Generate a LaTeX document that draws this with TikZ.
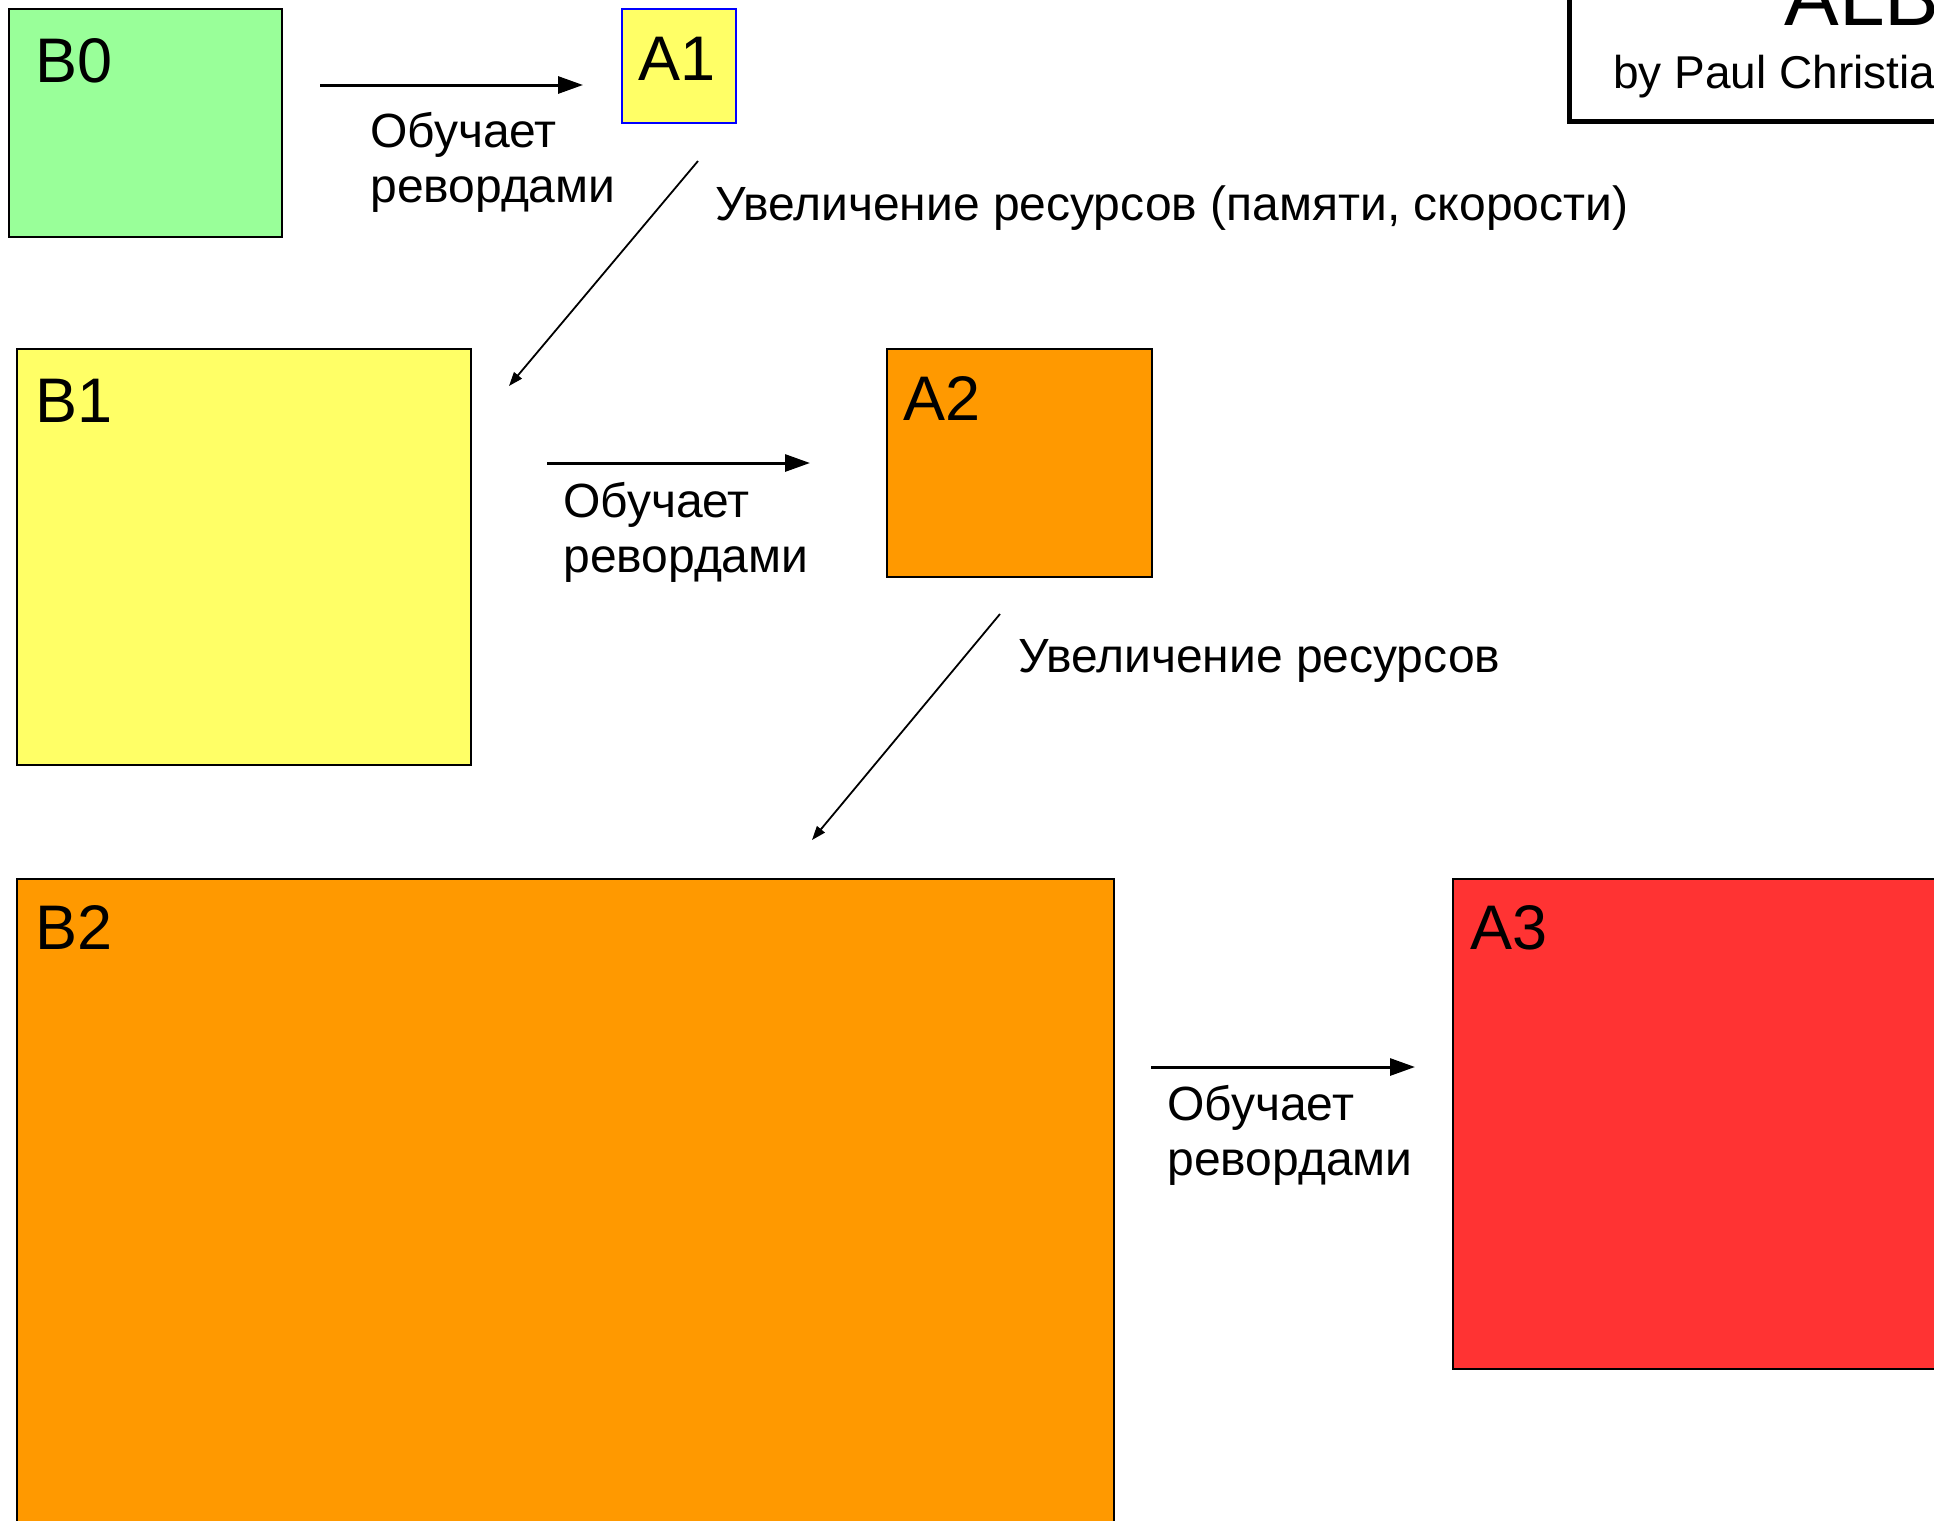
\documentclass[tikz,border=0pt]{standalone}
\usepackage{fontspec}
\setmainfont{Liberation Sans}
\usetikzlibrary{arrows.meta}
\definecolor{cgreen}{HTML}{99FF99}
\definecolor{cyellow}{HTML}{FFFF66}
\definecolor{corange}{HTML}{FF9900}
\definecolor{cred}{HTML}{FF3333}
\definecolor{cblue}{HTML}{0000FF}
\tikzset{
  x=0.5pt, y=-0.5pt,
  box/.style={draw=black, line width=1pt, anchor=north west, inner sep=0pt, outer sep=0pt},
  boxlabel/.style={anchor=base west, inner sep=0pt, font=\fontsize{31.5}{31.5}\selectfont},
  edgelabel/.style={anchor=base west, inner sep=0pt, align=left, font=\fontsize{24}{27.5}\selectfont},
  trains/.style={line width=1.5pt, -{Triangle[length=12.5pt,width=8.5pt]}},
  grows/.style={line width=0.9pt, -{Triangle[length=7pt,width=5pt]}},
}
\begin{document}
\begin{tikzpicture}
\useasboundingbox (0,0) rectangle (1934,1521);
\clip (0,0) rectangle (1934,1521);
% boxes
\node[box, fill=cgreen, minimum width=136.5pt, minimum height=114pt] (B0) at (9,9) {};
\node[box, fill=cyellow, draw=cblue, minimum width=57pt, minimum height=57pt] (A1) at (622,9) {};
\node[box, fill=cyellow, minimum width=227pt, minimum height=208pt] (B1) at (17,349) {};
\node[box, fill=corange, minimum width=132.5pt, minimum height=114pt] (A2) at (887,349) {};
\node[box, fill=corange, minimum width=548.5pt, minimum height=400pt] (B2) at (17,879) {};
\node[box, fill=cred, minimum width=300pt, minimum height=245pt] (A3) at (1453,879) {};
% box labels
\node[boxlabel] (lB0) at (35,82) {B0};
\node[boxlabel] (lA1) at (638,80) {A1};
\node[boxlabel] (lB1) at (35,422) {B1};
\node[boxlabel] (lA2) at (903,420) {A2};
\node[boxlabel] (lB2) at (35,949) {B2};
\node[boxlabel] (lA3) at (1470,949) {A3};
% title box
\node[draw=black, line width=2.5pt, anchor=south west, inner sep=0pt, minimum width=300pt, minimum height=150pt] (title) at (1567,124) {};
\node[anchor=base west, inner sep=0pt, font=\fontsize{41}{41}\selectfont] (ttl) at (1784,25) {ALB};
\node[anchor=base west, inner sep=0pt, font=\fontsize{23}{23}\selectfont] (author) at (1613,88) {by Paul Christiano};
% horizontal arrows
\coordinate (s1) at (320,85);   \coordinate (e1) at (583,85);
\coordinate (s2) at (547,463);  \coordinate (e2) at (810,463);
\coordinate (s3) at (1151,1067);\coordinate (e3) at (1415,1067);
\draw[trains] (s1) -- (e1);
\draw[trains] (s2) -- (e2);
\draw[trains] (s3) -- (e3);
\node[edgelabel] (t1) at (370,202) {Обучает\\ревордами};
\node[edgelabel] (t2) at (563,572) {Обучает\\ревордами};
\node[edgelabel] (t3) at (1167,1175) {Обучает\\ревордами};
% diagonal arrows
\coordinate (d1s) at (698,161); \coordinate (d1e) at (509,386);
\coordinate (d2s) at (1000,614);\coordinate (d2e) at (812,840);
\draw[grows] (d1s) -- (d1e);
\draw[grows] (d2s) -- (d2e);
\node[edgelabel] (g1) at (715,220) {Увеличение ресурсов (памяти, скорости)};
\node[edgelabel] (g2) at (1018,672) {Увеличение ресурсов};
\end{tikzpicture}
\end{document}
